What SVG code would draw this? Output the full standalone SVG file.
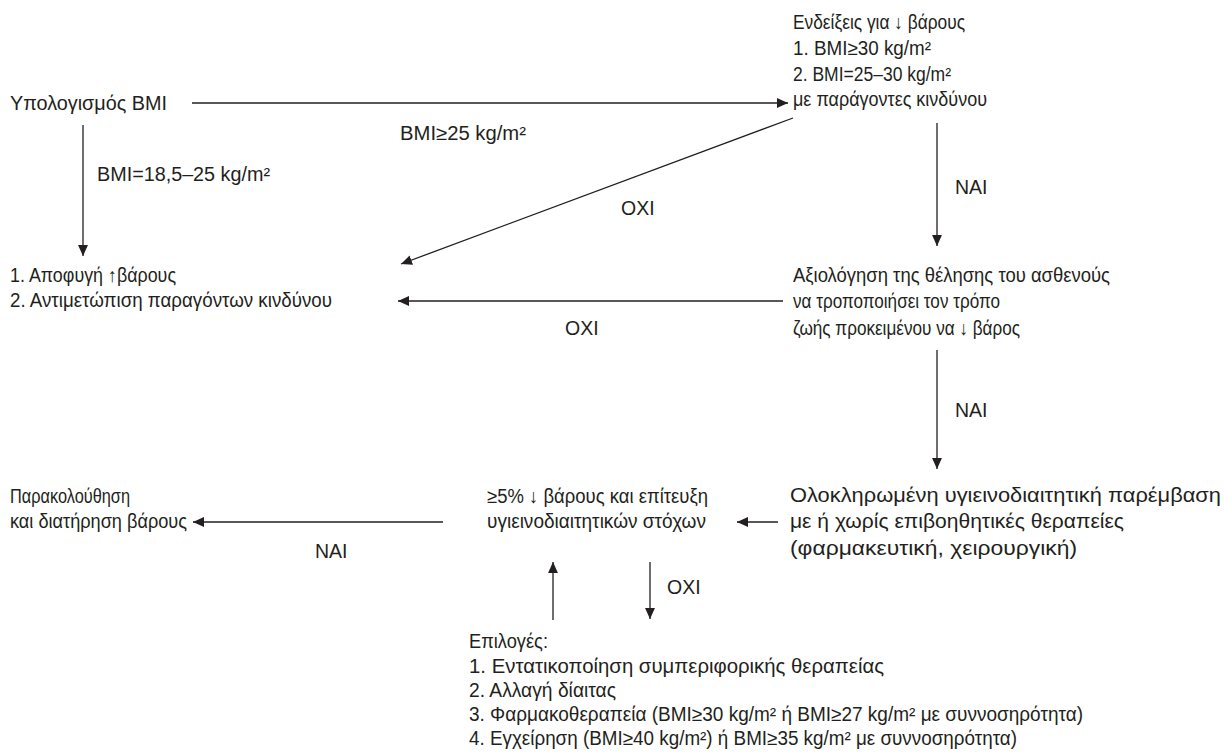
<svg xmlns="http://www.w3.org/2000/svg" width="1224" height="753" viewBox="0 0 1224 753">
<style>
text{font-family:"Liberation Sans","Noto Sans",sans-serif;font-size:19.5px;fill:#231f20}
.c line{stroke:#231f20;stroke-width:1.3;fill:none}
</style>
<defs>
<marker id="ah" viewBox="0 0 10 10" refX="10" refY="5" markerWidth="11" markerHeight="11" markerUnits="userSpaceOnUse" orient="auto">
<path d="M0,0.5 L10,5 L0,9.5 z" fill="#231f20"/>
</marker>
</defs>
<rect width="1224" height="753" fill="#fff"/>
<g class="c" id="connectors">
<line x1="192" y1="103" x2="788" y2="103" marker-end="url(#ah)"/>
<line x1="83" y1="125" x2="83" y2="256" marker-end="url(#ah)"/>
<line x1="793" y1="118" x2="401" y2="264" marker-end="url(#ah)"/>
<line x1="937" y1="123" x2="937" y2="246" marker-end="url(#ah)"/>
<line x1="783" y1="301" x2="398" y2="301" marker-end="url(#ah)"/>
<line x1="937" y1="350" x2="937" y2="469" marker-end="url(#ah)"/>
<line x1="778" y1="522" x2="737" y2="522" marker-end="url(#ah)"/>
<line x1="443" y1="522" x2="193" y2="522" marker-end="url(#ah)"/>
<line x1="553" y1="620" x2="553" y2="562" marker-end="url(#ah)"/>
<line x1="650" y1="562" x2="650" y2="619" marker-end="url(#ah)"/>
</g>
<g id="labels">
<text x="400" y="140" textLength="126" lengthAdjust="spacingAndGlyphs">BMI≥25 kg/m²</text>
<text x="97" y="181" textLength="173" lengthAdjust="spacingAndGlyphs">BMI=18,5–25 kg/m²</text>
<text x="621" y="215">OXI</text>
<text x="955" y="194">NAI</text>
<text x="565" y="335">OXI</text>
<text x="955" y="417">NAI</text>
<text x="315" y="558">NAI</text>
<text x="667" y="594">OXI</text>
</g>
<g id="n-bmi"><text x="10" y="110" textLength="157" lengthAdjust="spacingAndGlyphs">Υπολογισμός BMI</text></g>
<g id="n-indications">
<text x="793" y="29" textLength="172" lengthAdjust="spacingAndGlyphs">Ενδείξεις για ↓ βάρους</text>
<text x="793" y="55" textLength="138" lengthAdjust="spacingAndGlyphs">1. BMI≥30 kg/m²</text>
<text x="793" y="81" textLength="158" lengthAdjust="spacingAndGlyphs">2. BMI=25–30 kg/m²</text>
<text x="793" y="106" textLength="194" lengthAdjust="spacingAndGlyphs">με παράγοντες κινδύνου</text>
</g>
<g id="n-avoid">
<text x="10" y="282" textLength="166" lengthAdjust="spacingAndGlyphs">1. Αποφυγή ↑βάρους</text>
<text x="10" y="307" textLength="322" lengthAdjust="spacingAndGlyphs">2. Αντιμετώπιση παραγόντων κινδύνου</text>
</g>
<g id="n-assess">
<text x="793" y="282" textLength="317" lengthAdjust="spacingAndGlyphs">Αξιολόγηση της θέλησης του ασθενούς</text>
<text x="793" y="308" textLength="207" lengthAdjust="spacingAndGlyphs">να τροποποιήσει τον τρόπο</text>
<text x="793" y="335" textLength="227" lengthAdjust="spacingAndGlyphs">ζωής προκειμένου να ↓ βάρος</text>
</g>
<g id="n-intervention">
<text x="790" y="502" textLength="431" lengthAdjust="spacingAndGlyphs">Ολοκληρωμένη υγιεινοδιαιτητική παρέμβαση</text>
<text x="790" y="528" textLength="334" lengthAdjust="spacingAndGlyphs">με ή χωρίς επιβοηθητικές θεραπείες</text>
<text x="790" y="555" textLength="287" lengthAdjust="spacingAndGlyphs">(φαρμακευτική, χειρουργική)</text>
</g>
<g id="n-goal">
<text x="487" y="503" textLength="221" lengthAdjust="spacingAndGlyphs">≥5% ↓ βάρους και επίτευξη</text>
<text x="487" y="528" textLength="219" lengthAdjust="spacingAndGlyphs">υγιεινοδιαιτητικών στόχων</text>
</g>
<g id="n-monitor">
<text x="10" y="503" textLength="120" lengthAdjust="spacingAndGlyphs">Παρακολούθηση</text>
<text x="10" y="528" textLength="177" lengthAdjust="spacingAndGlyphs">και διατήρηση βάρους</text>
</g>
<g id="n-options">
<text x="469" y="648" textLength="79" lengthAdjust="spacingAndGlyphs">Επιλογές:</text>
<text x="469" y="673" textLength="415" lengthAdjust="spacingAndGlyphs">1. Εντατικοποίηση συμπεριφορικής θεραπείας</text>
<text x="469" y="697" textLength="147" lengthAdjust="spacingAndGlyphs">2. Αλλαγή δίαιτας</text>
<text x="469" y="721" textLength="614" lengthAdjust="spacingAndGlyphs">3. Φαρμακοθεραπεία (BMI≥30 kg/m² ή BMI≥27 kg/m² με συννοσηρότητα)</text>
<text x="469" y="745" textLength="548" lengthAdjust="spacingAndGlyphs">4. Εγχείρηση (BMI≥40 kg/m²) ή BMI≥35 kg/m² με συννοσηρότητα)</text>
</g>
</svg>
